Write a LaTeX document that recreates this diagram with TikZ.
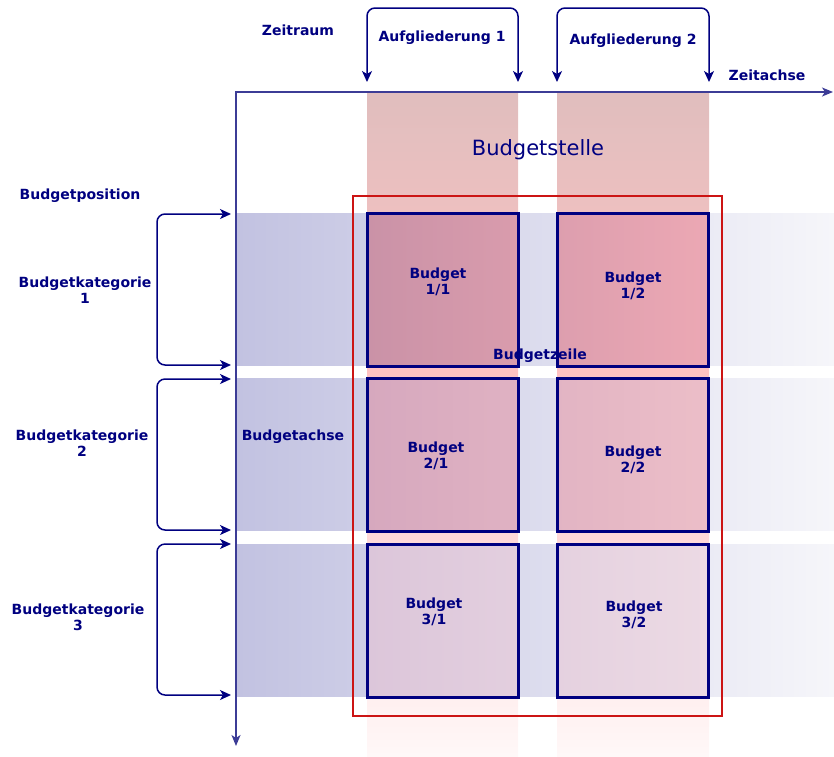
\documentclass[tikz,border=0pt]{standalone}
\usepackage{fontspec}
\setmainfont{DejaVu Sans}
\usetikzlibrary{arrows.meta}
\usepackage{xcolor}

\definecolor{bnavy}{RGB}{0,0,128}
\definecolor{achse}{RGB}{60,60,150}
\definecolor{rahmen}{RGB}{204,20,20}
% Spalten (Aufgliederungen)
\definecolor{sp0}{RGB}{224,190,190}
\definecolor{sp1}{RGB}{255,194,194}
\definecolor{sp2}{RGB}{255,240,240}
\definecolor{sp3}{RGB}{255,248,248}
% Zeilen (Budgetkategorien)
\definecolor{ze0}{RGB}{194,194,225}
\definecolor{ze1}{RGB}{246,246,250}
% Budgets
\definecolor{k1l}{RGB}{202,146,167}
\definecolor{k1r}{RGB}{236,168,180}
\definecolor{k2l}{RGB}{214,168,190}
\definecolor{k2r}{RGB}{236,190,200}
\definecolor{k3l}{RGB}{220,198,218}
\definecolor{k3r}{RGB}{236,218,228}
\pgfdeclareverticalshading{spalte}{100bp}{color(0bp)=(sp3); color(25bp)=(sp3); color(29bp)=(sp2); color(54bp)=(sp1); color(75bp)=(sp0); color(100bp)=(sp0)}

\tikzset{
  txt/.style={font=\bfseries\fontsize{14}{16}\selectfont, text=bnavy, align=center, inner sep=0pt},
  budget/.style={draw=bnavy, line width=3pt, minimum width=151pt, minimum height=153pt, inner sep=0pt},
  klammer/.style={{Stealth[length=11pt,width=10pt,inset=3pt]}-{Stealth[length=11pt,width=10pt,inset=3pt]}, line width=1.5pt, bnavy, rounded corners=8pt},
  achsen/.style={{Stealth[length=11pt,width=9pt,inset=3pt]}-{Stealth[length=11pt,width=9pt,inset=3pt]}, line width=1.6pt, achse},
}

\begin{document}
\begin{tikzpicture}[x=1pt,y=-1pt]
        \useasboundingbox (0,0) rectangle (834,756);
        \shade[shading=spalte] (367,93) rectangle (518,756); % Aufgliederung 1
        \shade[shading=spalte] (557,93) rectangle (709,756); % Aufgliederung 2
        \foreach \ya/\yb in {213/365,378/530,544/696}
        \shade[left color=ze0, right color=ze1] (237,\ya) rectangle (834,\yb);
        \foreach \r/\ya/\yb in {1/213/366,2/378/531,3/544/697}{
        \begin{scope}
        \clip (367,\ya) rectangle (518,\yb) (557,\ya) rectangle (709,\yb);
        \shade[left color=k\r l, right color=k\r r] (367,\ya) rectangle (709,\yb);
        \end{scope}
        }
        \draw[rahmen, line width=2pt] (353,196) rectangle (722,716); % Budgetzeile
        \node[budget] (b11) at (442.5,289.5) {};
        \node[budget] (b12) at (633,289.5) {};
        \node[budget] (b21) at (442.5,454.5) {};
        \node[budget] (b22) at (633,454.5) {};
        \node[budget] (b31) at (442.5,620.5) {};
        \node[budget] (b32) at (633,620.5) {};
        \node[txt] (t11) at (438,282) {Budget\\1/1};
        \node[txt] (t12) at (633,286) {Budget\\1/2};
        \node[txt] (t21) at (436,456) {Budget\\2/1};
        \node[txt] (t22) at (633,460) {Budget\\2/2};
        \node[txt] (t31) at (434,612) {Budget\\3/1};
        \node[txt] (t32) at (634,615) {Budget\\3/2};
        % Achsen
        \coordinate (O) at (236,92);
        \coordinate (xe) at (833,92);
        \coordinate (ye) at (236,746);
        \draw[achsen] (xe) -- (O) -- (ye);
        % Klammern oben
        \foreach \i/\xa/\xb in {1/367/518,2/557/709}{
        \coordinate (a\i) at (\xa,82);
        \coordinate (e\i) at (\xb,82);
        \draw[klammer] (a\i) -- (\xa,8) -- (\xb,8) -- (e\i);
        }
        % Klammern links
        \foreach \i/\ya/\yb in {1/214/365,2/379/530,3/544/695}{
        \coordinate (o\i) at (231,\ya);
        \coordinate (u\i) at (231,\yb);
        \draw[klammer] (o\i) -- (157,\ya) -- (157,\yb) -- (u\i);
        }
        \node[txt] (zr) at (298,30) {Zeitraum};
        \node[txt] (ag1) at (442,38) {Aufgliederung 1};
        \node[txt] (ag2) at (633,41) {Aufgliederung 2};
        \node[txt] (za) at (767,75) {Zeitachse};
        \node[txt, font=\fontsize{21}{25}\selectfont] (bs) at (538,150) {Budgetstelle};
        \node[txt] (bp) at (80,196) {Budgetposition};
        \node[txt] (bk1) at (85,290) {Budgetkategorie\\1};
        \node[txt] (bk2) at (82,443) {Budgetkategorie\\2};
        \node[txt] (bk3) at (78,617) {Budgetkategorie\\3};
        \node[txt] (ba) at (293,437) {Budgetachse};
        \node[txt] (bz) at (540,356) {Budgetzeile};
\end{tikzpicture}
\end{document}
